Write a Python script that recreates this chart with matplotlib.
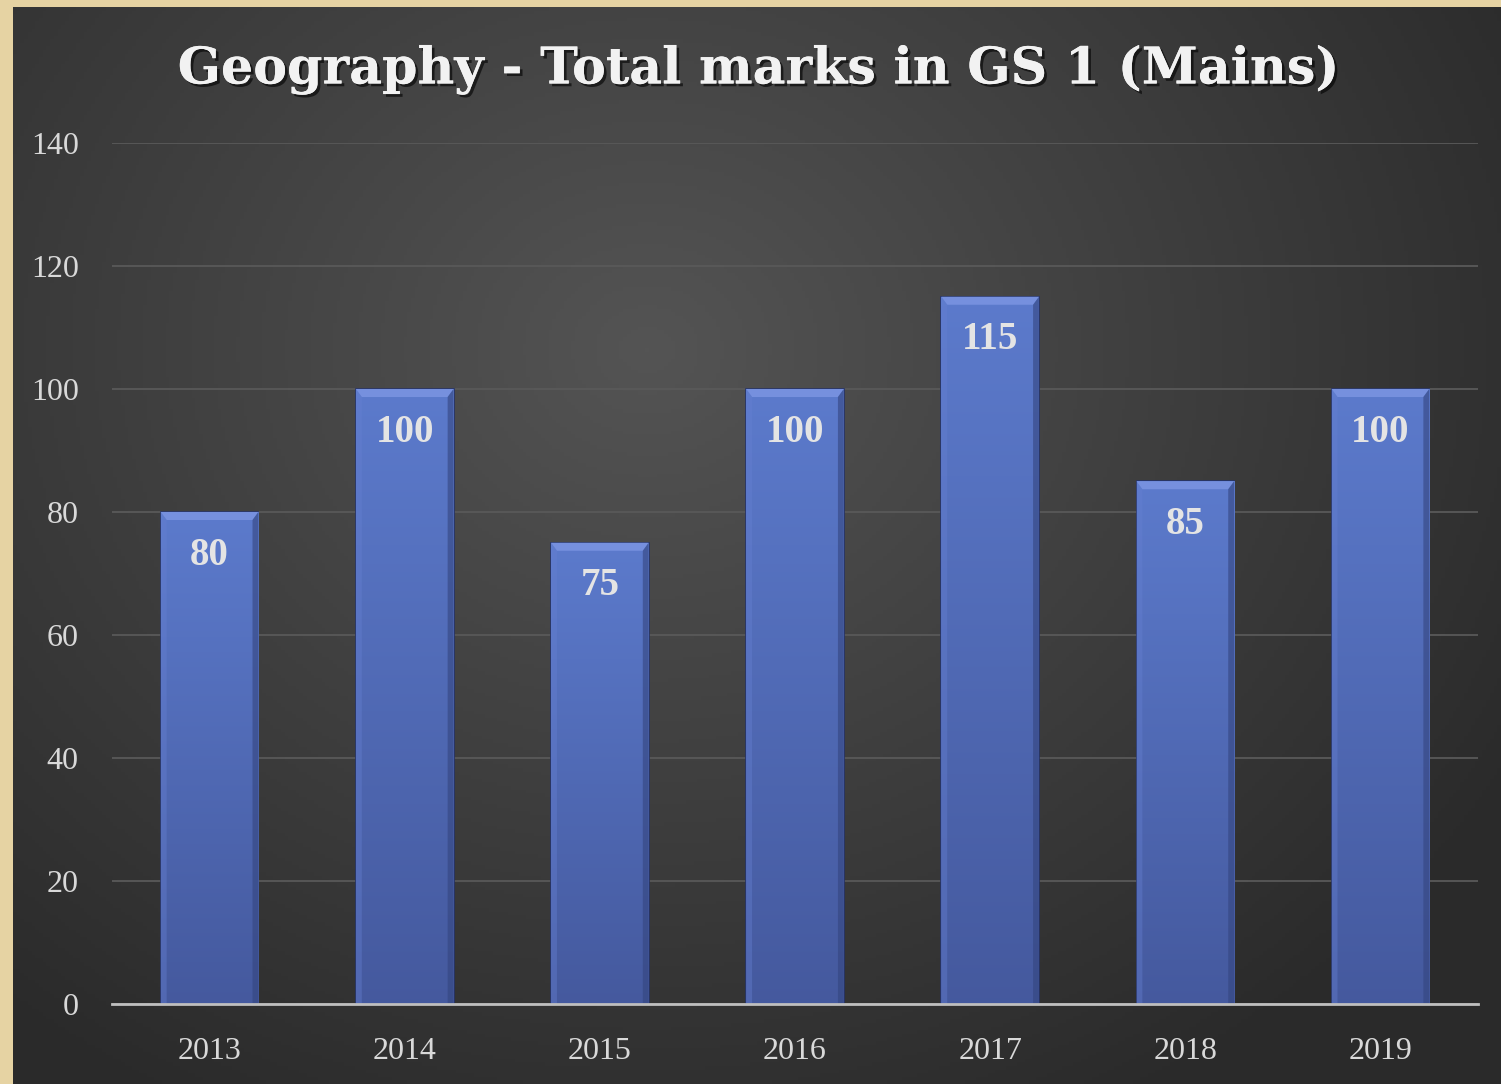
import numpy as np
import matplotlib.pyplot as plt
from matplotlib.patches import Polygon
import matplotlib.patheffects as pe

years = ['2013', '2014', '2015', '2016', '2017', '2018', '2019']
marks = [80, 100, 75, 100, 115, 85, 100]
y_ticks = [0, 20, 40, 60, 80, 100, 120, 140]

W, H = 1501, 1084
fig = plt.figure(figsize=(W / 100, H / 100), dpi=100)
fig.patch.set_facecolor('#e6d3a3')

# dark panel with radial gradient
bg = fig.add_axes([13 / W, 0, 1 - 13 / W, 1 - 7 / H])
bg.set_axis_off()
yy, xx = np.mgrid[0:300, 0:400]
cx, cy = 170, 95
r = np.sqrt(((xx - cx) / 270.0) ** 2 + ((yy - cy) / 240.0) ** 2)
r = np.clip(r, 0, 1)
lum = 0.33 - 0.165 * r
bg.imshow(np.dstack([lum, lum, lum]), aspect='auto', extent=[0, 1, 0, 1], origin='upper')
bg.set_xlim(0, 1)
bg.set_ylim(0, 1)

ax = fig.add_axes([112 / W, (H - 1004) / H, (1478 - 112) / W, (1004 - 143) / H])
ax.patch.set_alpha(0)
x = np.arange(len(years))
ax.set_xlim(-0.5, len(years) - 0.5)
ax.set_ylim(0, 140)

bars = ax.bar(x, marks, width=0.5, color='#5470c6', edgecolor='#26346a', linewidth=1.2, zorder=3)

grad = np.linspace(0, 1, 256).reshape(-1, 1)
top_c = np.array([0.36, 0.48, 0.80])
bot_c = np.array([0.27, 0.35, 0.62])
img = top_c * (1 - grad[..., None]) + bot_c * grad[..., None]
img = img.reshape(256, 1, 3)
for b, v in zip(bars, marks):
    x0 = b.get_x()
    w = b.get_width()
    im = ax.imshow(img, extent=[x0, x0 + w, 0, v], aspect='auto', zorder=3.5, origin='upper')
    im.set_clip_path(b)
    # bevel on top
    d = 0.03
    dy = 1.3
    ax.add_patch(Polygon([[x0, v], [x0 + w, v], [x0 + w - d, v - dy], [x0 + d, v - dy]],
                         closed=True, facecolor='#7690de', edgecolor='none', zorder=4))
    ax.add_patch(Polygon([[x0, v], [x0 + d, v - dy], [x0 + d, 0], [x0, 0]],
                         closed=True, facecolor='#6680d2', edgecolor='none', alpha=0.4, zorder=4))
    ax.add_patch(Polygon([[x0 + w, v], [x0 + w - d, v - dy], [x0 + w - d, 0], [x0 + w, 0]],
                         closed=True, facecolor='#34457f', edgecolor='none', alpha=0.6, zorder=4))
    ax.annotate(str(v), (b.get_x() + w / 2, v), xytext=(0, -31), textcoords='offset points',
                ha='center', va='center', fontsize=28, fontweight='bold',
                family='Liberation Serif', color='#e4e4e4', zorder=5)

ax.set_yticks(y_ticks)
ax.set_xticks(x)
ax.set_xticklabels(years)
ax.grid(axis='y', color='#595959', linewidth=1.3, zorder=0)
ax.set_axisbelow(True)
for s in ['top', 'right', 'left']:
    ax.spines[s].set_visible(False)
ax.spines['bottom'].set_color('#bfbfbf')
ax.spines['bottom'].set_linewidth(2)
ax.spines['bottom'].set_zorder(6)
ax.tick_params(length=0, colors='#d9d9d9', labelsize=23)
ax.tick_params(axis='x', pad=24)
ax.tick_params(axis='y', pad=24)
for lab in ax.get_xticklabels() + ax.get_yticklabels():
    lab.set_family('Liberation Serif')
    lab.set_color('#d9d9d9')

fig.text(759 / W, 1 - 70 / H, 'Geography - Total marks in GS 1 (Mains)',
         ha='center', va='center', fontsize=36.5, fontweight='bold',
         family='DejaVu Serif', color='#f2f2f2',
         path_effects=[pe.withSimplePatchShadow(offset=(2, -2), shadow_rgbFace='black', alpha=0.6),
                       pe.Normal()])

fig.savefig('out.png', dpi=100, facecolor=fig.get_facecolor())
